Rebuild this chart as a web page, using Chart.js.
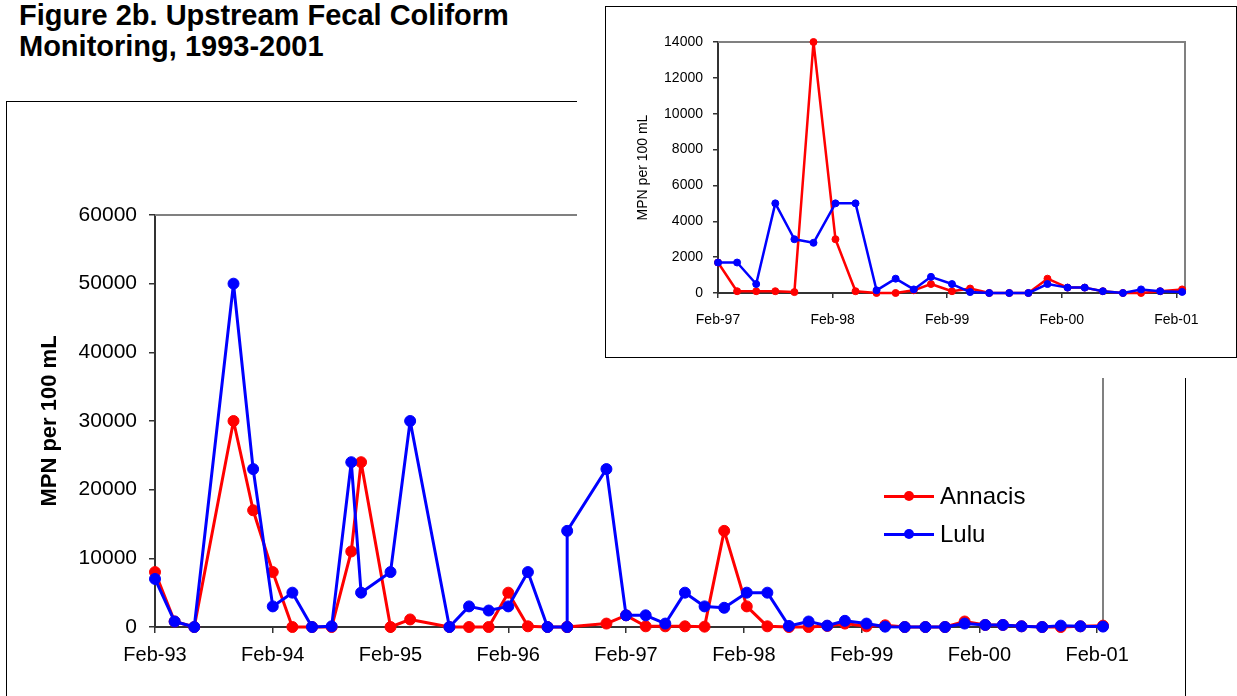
<!DOCTYPE html>
<html>
<head>
<meta charset="utf-8">
<title>Figure 2b. Upstream Fecal Coliform Monitoring, 1993-2001</title>
<script src="https://cdn.jsdelivr.net/npm/chart.js@4.4.1/dist/chart.umd.min.js"></script>
<style>
  html, body { margin: 0; padding: 0; background: #fff; }
  body { width: 1237px; height: 696px; overflow: hidden; position: relative; font-family: "Liberation Sans", Arial, sans-serif; }
  #title { position: absolute; left: 19px; top: 0; font-size: 29px; font-weight: bold; line-height: 31px; color: #000; }
  #frame { position: absolute; left: 6px; top: 101px; width: 1180px; height: 700px; border: 1px solid #000; box-sizing: border-box; }
  #mainChart { position: absolute; left: 7px; top: 102px; }
  .legend-item { position: absolute; height: 28px; display: flex; align-items: center; font-size: 24px; color: #000; }
  .swatch { position: relative; width: 50px; height: 3px; margin-right: 6px; }
  .swatch span { position: absolute; left: 20px; top: -3.5px; width: 10px; height: 10px; border-radius: 50%; }
  #insetCover { position: absolute; left: 577px; top: 0; width: 660px; height: 378px; background: #fff; }
  #insetBox { position: absolute; left: 605px; top: 6px; width: 632px; height: 352px; border: 1px solid #000; box-sizing: border-box; background: #fff; }
  #insetChart { display: block; }
</style>
</head>
<body>
<div id="title">Figure 2b. Upstream Fecal Coliform<br>Monitoring, 1993-2001</div>
<div id="frame"></div>
<canvas id="mainChart" width="1177" height="594"></canvas>
<div id="legend"></div>
<div id="insetCover"></div>
<div id="insetBox"><canvas id="insetChart" width="630" height="350"></canvas></div>

<script>
// sample dates, in months after Feb-93
const sampleMonths = [0, 2, 4, 8, 10, 12, 14, 16, 18, 20, 21, 24, 26, 30, 32, 34, 36, 38, 40, 42, 42, 46,
  48, 50, 52, 54, 56, 58, 60.3, 62.4, 64.6, 66.6, 68.5, 70.3, 72.5, 74.4, 76.4, 78.5, 80.5, 82.5,
  84.6, 86.4, 88.3, 90.4, 92.3, 94.3, 96.6];

// MPN per 100 mL
const annacis = [8000, 800, 0, 30000, 17000, 8000, 0, 0, 0, 11000, 24000, 0, 1100, 0, 0, 0, 5000, 100, 0, 0, 0, 500,
  1700, 100, 100, 100, 50, 14000, 3000, 100, 0, 0, 150, 500, 100, 250, 0, 0, 0, 800,
  300, 300, 100, 0, 0, 100, 200];
const lulu = [7000, 800, 0, 50000, 23000, 3000, 5000, 0, 100, 24000, 5000, 8000, 30000, 0, 3000, 2400, 3000, 8000, 0, 0, 14000, 23000,
  1700, 1700, 500, 5000, 3000, 2800, 5000, 5000, 150, 800, 200, 900, 500, 50, 0, 0, 0, 500,
  300, 300, 100, 0, 200, 100, 60];

const yearLabels = ['Feb-93', 'Feb-94', 'Feb-95', 'Feb-96', 'Feb-97', 'Feb-98', 'Feb-99', 'Feb-00', 'Feb-01'];
const seriesNames = ['Annacis', 'Lulu'];
const seriesColors = ['#ff0000', '#0000ff'];

Chart.defaults.font.family = '"Liberation Sans", Arial, sans-serif';
Chart.defaults.color = '#000';

const plotBorder = {
  id: 'plotBorder',
  beforeDatasetsDraw(chart, args, opts) {
    const { ctx, chartArea: a } = chart;
    ctx.save();
    ctx.strokeStyle = '#808080';
    ctx.lineWidth = opts.width || 2;
    ctx.beginPath();
    ctx.moveTo(a.left, a.top);
    ctx.lineTo(a.right, a.top);
    ctx.lineTo(a.right, a.bottom);
    ctx.stroke();
    ctx.restore();
  }
};

function points(values, fromMonth) {
  return sampleMonths
    .map((m, i) => ({ x: m, y: values[i] }))
    .filter(p => p.x >= fromMonth);
}

function makeChart(canvasId, s) {
  const ctx = document.getElementById(canvasId).getContext('2d');
  const tickMonths = yearLabels.map((l, i) => i * 12).filter(m => m >= s.xMin);

  return new Chart(ctx, {
    type: 'line',
    data: {
      datasets: [annacis, lulu].map((vals, i) => ({
        label: seriesNames[i],
        data: points(vals, s.xMin),
        borderColor: seriesColors[i],
        backgroundColor: seriesColors[i],
        pointBackgroundColor: seriesColors[i],
        pointBorderColor: seriesColors[i],
        pointBorderWidth: 1,
        borderWidth: s.lineWidth,
        borderJoinStyle: 'round',
        pointRadius: s.radius,
        tension: 0,
        fill: false,
        clip: false,
        order: i === 1 ? 0 : 1   // Lulu drawn over Annacis
      }))
    },
    options: {
      responsive: false,
      animation: false,
      events: [],
      layout: { padding: { left: 0, top: s.padTop, right: s.padRight, bottom: 0 } },
      plugins: {
        legend: { display: false },
        tooltip: { enabled: false },
        plotBorder: { width: 2 }
      },
      scales: {
        x: {
          type: 'linear',
          min: s.xMin,
          max: s.xMax,
          afterFit(scale) { scale.height = s.xHeight; },
          afterBuildTicks(scale) { scale.ticks = tickMonths.map(v => ({ value: v })); },
          border: { color: '#333', width: 2 },
          grid: { drawOnChartArea: false, drawTicks: true, tickLength: s.tickLen, color: '#333', lineWidth: 1.5 },
          ticks: {
            font: { size: s.xFont },
            padding: s.xPad,
            maxRotation: 0,
            autoSkip: false,
            callback: v => yearLabels[Math.round(v / 12)]
          }
        },
        y: {
          min: 0,
          max: s.yMax,
          afterFit(scale) { scale.width = s.yWidth; },
          border: { color: '#333', width: 2 },
          grid: { drawOnChartArea: false, drawTicks: true, tickLength: s.tickLen, color: '#333', lineWidth: 1.5 },
          ticks: {
            stepSize: s.yStep,
            font: { size: s.yFont },
            padding: s.yPad,
            callback: v => String(v)
          },
          title: {
            display: true,
            text: 'MPN per 100 mL',
            font: { size: s.titleFont, weight: s.titleWeight },
            padding: { top: s.titlePad, bottom: 0 }
          }
        }
      }
    },
    plugins: [plotBorder]
  });
}

const mainChart = makeChart('mainChart', {
  xMin: 0, xMax: 96.6, yMax: 60000, yStep: 10000,
  padTop: 113, padRight: 81, yWidth: 148, xHeight: 69,
  tickLen: 6, xFont: 20, yFont: 21, xPad: 10, yPad: 12,
  titleFont: 22, titleWeight: 'bold', titlePad: 30,
  lineWidth: 3, radius: 5.5
});

makeChart('insetChart', {
  xMin: 48, xMax: 96.9, yMax: 14000, yStep: 2000,
  padTop: 35, padRight: 51, yWidth: 112, xHeight: 64,
  tickLen: 5, xFont: 14, yFont: 14, xPad: 14, yPad: 10,
  titleFont: 14, titleWeight: 'normal', titlePad: 29,
  lineWidth: 2.5, radius: 3.5
});

// legend built from the main chart's datasets
const legendRows = [482, 520];
const legend = document.getElementById('legend');
mainChart.data.datasets.forEach((ds, i) => {
  const item = document.createElement('div');
  item.className = 'legend-item';
  item.style.left = '884px';
  item.style.top = legendRows[i] + 'px';
  const sw = document.createElement('div');
  sw.className = 'swatch';
  sw.style.background = ds.borderColor;
  const dot = document.createElement('span');
  dot.style.background = ds.borderColor;
  sw.appendChild(dot);
  item.appendChild(sw);
  item.appendChild(document.createTextNode(ds.label));
  legend.appendChild(item);
});
</script>
</body>
</html>
